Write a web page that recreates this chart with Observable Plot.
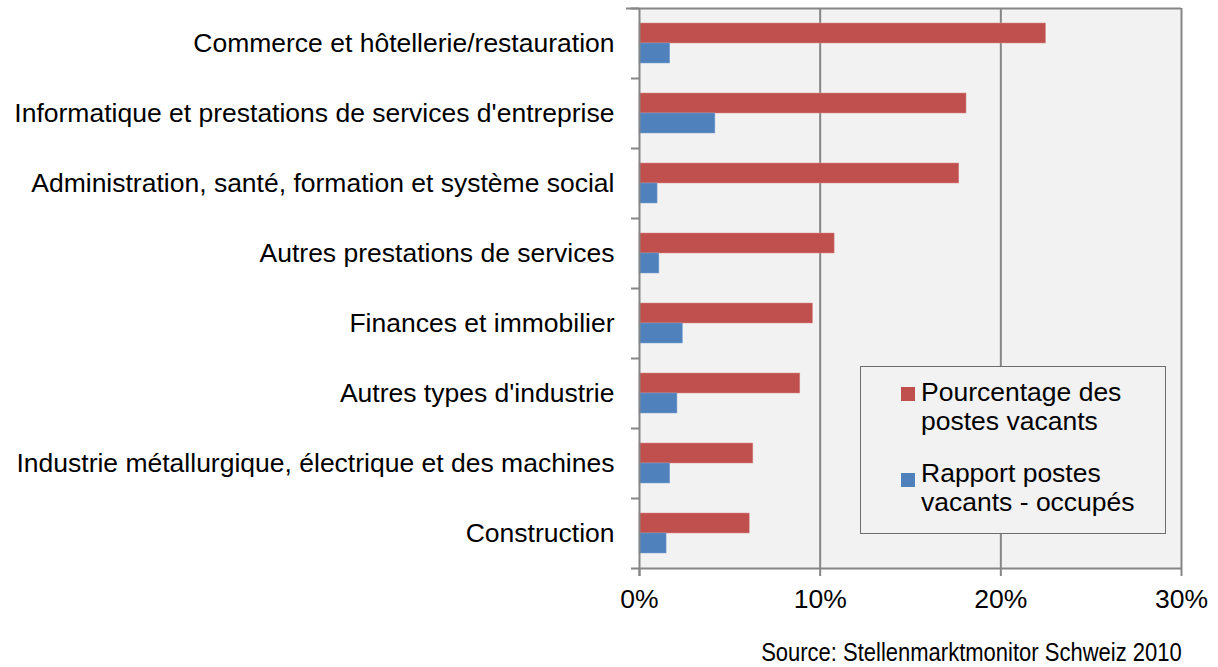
<!DOCTYPE html>
<html><head><meta charset="utf-8">
<script src="https://cdn.jsdelivr.net/npm/d3@7"></script>
<script src="https://cdn.jsdelivr.net/npm/@observablehq/plot@0.6"></script>
<style>
body{margin:0;background:#fff;font-family:"Liberation Sans",Arial,sans-serif;}
#wrap{position:relative;width:1218px;height:667px;overflow:hidden;}
#legend{position:absolute;left:860px;top:366px;width:306px;height:168px;box-sizing:border-box;border:1px solid #6e6e6e;background:#f2f2f2;font-size:26.5px;color:#000;}
.item{position:absolute;left:60px;line-height:29px;white-space:nowrap;}
.sw{position:absolute;left:40px;width:14px;height:14px;}
#source{position:absolute;right:36px;top:641px;font-size:26.5px;line-height:22px;color:#000;white-space:nowrap;transform:scaleX(0.83);transform-origin:right center;}
</style></head>
<body><div id="wrap"><div id="chart"></div><div id="legend"></div><div id="source"></div></div>
<script>
const categories = [
  "Commerce et hôtellerie/restauration",
  "Informatique et prestations de services d'entreprise",
  "Administration, santé, formation et système social",
  "Autres prestations de services",
  "Finances et immobilier",
  "Autres types d'industrie",
  "Industrie métallurgique, électrique et des machines",
  "Construction"
];
const pourcentage = [22.5, 18.1, 17.7, 10.8, 9.6, 8.9, 6.3, 6.1];
const rapport = [1.7, 4.2, 1.0, 1.1, 2.4, 2.1, 1.7, 1.5];
const seriesNames = ["Pourcentage des postes vacants", "Rapport postes vacants - occupés"];
const seriesColors = ["#C0504D", "#4F81BD"];
const xTicks = [0, 10, 20, 30];
const sourceText = "Source: Stellenmarktmonitor Schweiz 2010";

const rowsA = categories.map((c, i) => ({category: c, value: pourcentage[i]}));
const rowsB = categories.map((c, i) => ({category: c, value: rapport[i]}));
const gridColor = "#868686";

const chart = Plot.plot({
  width: 1218,
  height: 640,
  marginLeft: 639,
  marginRight: 37,
  marginTop: 8,
  marginBottom: 72,
  style: {fontFamily: "Liberation Sans, Arial, sans-serif", fontSize: "26.5px", color: "#000", background: "#fff"},
  x: {domain: [0, 30], axis: null},
  y: {domain: categories, paddingInner: 0.43, paddingOuter: 0.215, axis: null},
  marks: [
    Plot.frame({fill: "#f2f2f2", stroke: null}),
    Plot.ruleX(xTicks.slice(1), {stroke: gridColor, strokeWidth: 2}),
    Plot.barX(rowsA, {x: "value", y: "category", fill: seriesColors[0], insetBottom: 20, stroke: "#d58a88", strokeWidth: 0.5}),
    Plot.barX(rowsB, {x: "value", y: "category", fill: seriesColors[1], insetTop: 20, stroke: "#7fa3d1", strokeWidth: 0.5}),
    Plot.ruleY([categories[0]], {y: d => d, dy: -35, x1: 0, x2: 30, insetLeft: -13, stroke: gridColor, strokeWidth: 2}),
    Plot.ruleX([0], {stroke: gridColor, strokeWidth: 2, insetBottom: -8}),
    Plot.ruleY(categories, {y: d => d, dy: -35, x1: 0, x2: 0, insetLeft: -8, stroke: gridColor, strokeWidth: 2}),
    Plot.ruleY([categories[categories.length - 1]], {y: d => d, dy: 35, x1: 0, x2: 30, insetLeft: -8, stroke: gridColor, strokeWidth: 2}),
    Plot.axisX({ticks: xTicks, tickFormat: d => d + "%", tickSize: 8, tickPadding: 13, stroke: gridColor, strokeWidth: 2, label: null, fontSize: 26.5}),
    Plot.axisY({tickSize: 0, tickPadding: 25, label: null, fontSize: 26.5})
  ]
});
document.getElementById("chart").append(chart);

const legend = document.getElementById("legend");
const itemTops = [11, 92];
const swTops = [20, 106];
seriesNames.forEach((name, i) => {
  const sw = document.createElement("div");
  sw.className = "sw";
  sw.style.top = swTops[i] + "px";
  sw.style.background = seriesColors[i];
  legend.append(sw);
  const it = document.createElement("div");
  it.className = "item";
  it.style.top = itemTops[i] + "px";
  const words = name.split(" ");
  it.innerHTML = words.slice(0, 2).join(" ") + "<br>" + words.slice(2).join(" ");
  legend.append(it);
});
document.getElementById("source").textContent = sourceText;
</script>
</body></html>
